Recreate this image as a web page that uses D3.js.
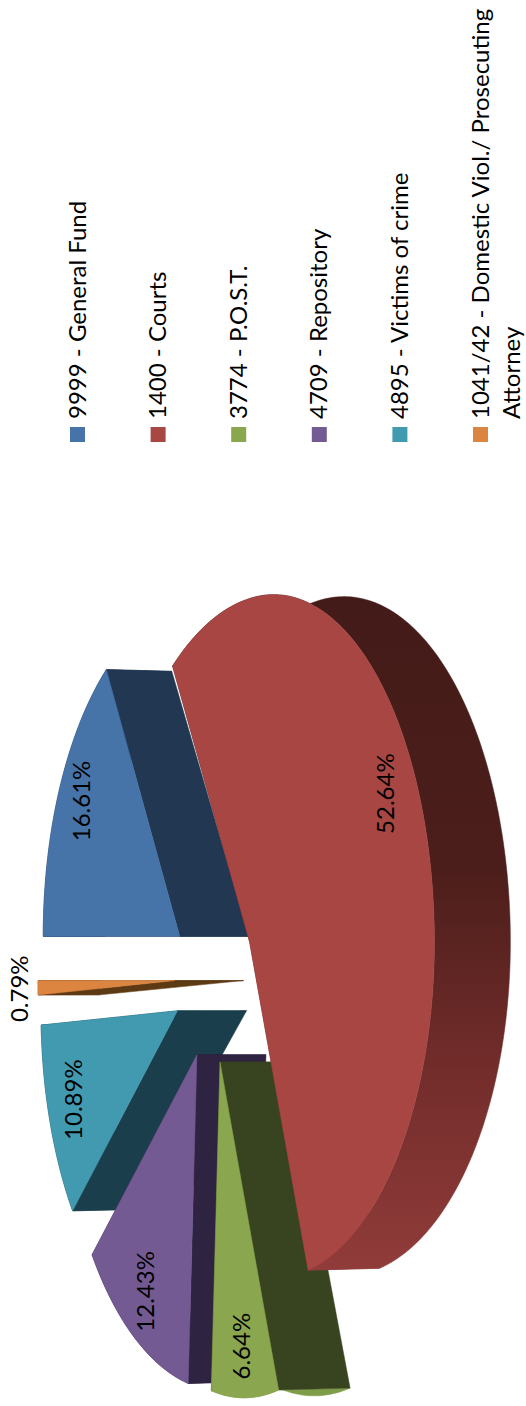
<!DOCTYPE html>
<html lang="en">
<head>
    <meta charset="UTF-8">
    <title>Fund pie</title>
    <script src="https://cdn.jsdelivr.net/npm/d3@7"></script>
    <style>
        body{ margin:0; background:#fff; }
        svg{ display:block; }
        text{ font-family:Lato,"Open Sans",sans-serif; fill:#000; }
    </style>
</head>
<body>
<div class="app"></div>
<script>
    // data
    var funds = [
        ['9999 - General Fund'],
        ['1400 - Courts'],
        ['3774 - P.O.S.T.'],
        ['4709 - Repository'],
        ['4895 - Victims of crime'],
        ['1041/42 - Domestic Viol./ Prosecuting','Attorney']
    ];
    var shares = [16.61,52.64,6.64,12.43,10.89,0.79];

    // colours per slice
    var topColors = ['#4673a8','#a84644','#8aa64e','#735a92','#419ab0','#dc8540'];
    var wallColors = ['#213752','url(#redWall)','#384420','#2e2340','#1a3e4c','#5e3a14'];
    var rimColors = ['#213752','url(#redWall)','#7f9c49','#2e2340','#1a3e4c','#5e3a14'];
    // far slices first, so the near ones cover them
    var drawOrder = [0,5,4,3,2,1];

    var width = 526,
        height = 1406,
        svg = d3.select('.app')
                .append('svg')
                .attr('width',width)
                .attr('height',height);

    var defs = svg.append('defs');
    var grad = defs.append('linearGradient')
                .attr('id','redWall')
                .attr('gradientUnits','userSpaceOnUse')
                .attr('x1',0).attr('x2',0).attr('y1',600).attr('y2',1275);
    grad.append('stop').attr('offset','0').attr('stop-color','#431b18');
    grad.append('stop').attr('offset','0.4').attr('stop-color','#4c1e1b');
    grad.append('stop').attr('offset','0.7').attr('stop-color','#732d2b');
    grad.append('stop').attr('offset','1').attr('stop-color','#913c3a');

    // pie angles, 0 = 12 o'clock of the (turned) chart, which is screen left
    var pie = d3.pie().sort(null).startAngle(0).endAngle(2 * Math.PI);
    var arcs = pie(shares);

    // explode offset of every slice
    var explodeX = d3.scaleLinear().domain([-1,1]).range([253.5,174.5]);
    var explodeY = d3.scaleLinear().domain([-1,1]).range([1063,894]);

    var persp = 0.15,
        radiusDepth = 157,
        radiusSide = 332;

    function apex(d){
        var mid = (d.startAngle + d.endAngle) / 2;
        return [explodeX(Math.cos(mid)),explodeY(Math.sin(mid))];
    }

    // point on the top face, r = 0 apex, r = 1 rim
    function project(d,angle,r){
        var a = Math.sin(angle),
            b = Math.cos(angle),
            w = 1 + persp * b,
            c = apex(d),
            big = d.value > 50; // the big slice bulges a bit on its far half
        var growX = big && b > 0 ? 1.05 : 1,
            growY = big && a > 0 ? 1.035 : 1;
        return [c[0] - r * growX * radiusDepth * b / w,c[1] - r * growY * radiusSide * a / w,a,b];
    }

    // same point at the bottom of the slice
    function drop(p){
        return [p[0] + 69 - 7 * p[3],p[1] + 2 * p[2]];
    }

    function rimPoints(d){
        var n = Math.max(4,Math.ceil((d.endAngle - d.startAngle) * 60));
        return d3.range(n + 1).map(function(i){
            return project(d,d.startAngle + (d.endAngle - d.startAngle) * i / n,1);
        });
    }

    var line = d3.line().curve(d3.curveLinear);

    function poly(g,pts,fill){
        g.append('path')
            .attr('d',line(pts) + 'Z')
            .attr('fill',fill)
            .attr('stroke',fill)
            .attr('stroke-width',0.5);
    }

    var chart = svg.append('g').attr('class','pie');

    drawOrder.forEach(function(i){
        var d = arcs[i],
            g = chart.append('g').attr('class','slice'),
            rim = rimPoints(d),
            c = project(d,d.startAngle,0),
            low = rim.map(drop),
            cLow = [c[0] + 69,c[1]];

        // outer wall
        poly(g,rim.concat(low.slice().reverse()),rimColors[i]);
        // the two cut walls
        [rim[0],rim[rim.length - 1]].forEach(function(p){
            poly(g,[c,p,drop(p),cLow],wallColors[i]);
        });
        // top face
        poly(g,[c].concat(rim),topColors[i]);
    });

    // value labels, small slices get theirs outside the rim
    var format = d3.format('.2f');
    chart.selectAll('.value')
        .data(arcs)
        .enter().append('text')
        .attr('class','value')
        .attr('text-anchor','middle')
        .attr('dominant-baseline','central')
        .attr('font-size',24)
        .attr('transform',function(d){
            var mid = (d.startAngle + d.endAngle) / 2,
                outside = d.value < 1,
                c = apex(d),
                p = project(d,mid,1),
                fx = outside ? 1.14 : 0.82,
                fy = outside ? 1.14 : 0.87,
                lx = c[0] + (p[0] - c[0]) * fx,
                ly = c[1] + (p[1] - c[1]) * fy - (outside || d.value > 50 ? 0 : 8);
            return 'translate(' + lx + ',' + ly + ') rotate(-90)';
        })
        .text(function(d){ return format(d.value) + '%'; });

    // legend
    var rowX = d3.scalePoint()
                .domain(d3.range(funds.length))
                .range([77.5,480.5]);

    var row = svg.append('g').attr('class','legend')
                .selectAll('g')
                .data(funds)
                .enter().append('g')
                .attr('transform',function(d,i){ return 'translate(' + rowX(i) + ',0)'; });

    row.append('rect')
        .attr('x',-7.5)
        .attr('y',427)
        .attr('width',15)
        .attr('height',15)
        .attr('fill',function(d,i){ return topColors[i]; });

    row.selectAll('text')
        .data(function(d){ return d; })
        .enter().append('text')
        .attr('font-size',24)
        .attr('transform',function(d,j){ return 'translate(' + (8 + j * 31.5) + ',419) rotate(-90)'; })
        .text(function(d){ return d; });
</script>
</body>
</html>
